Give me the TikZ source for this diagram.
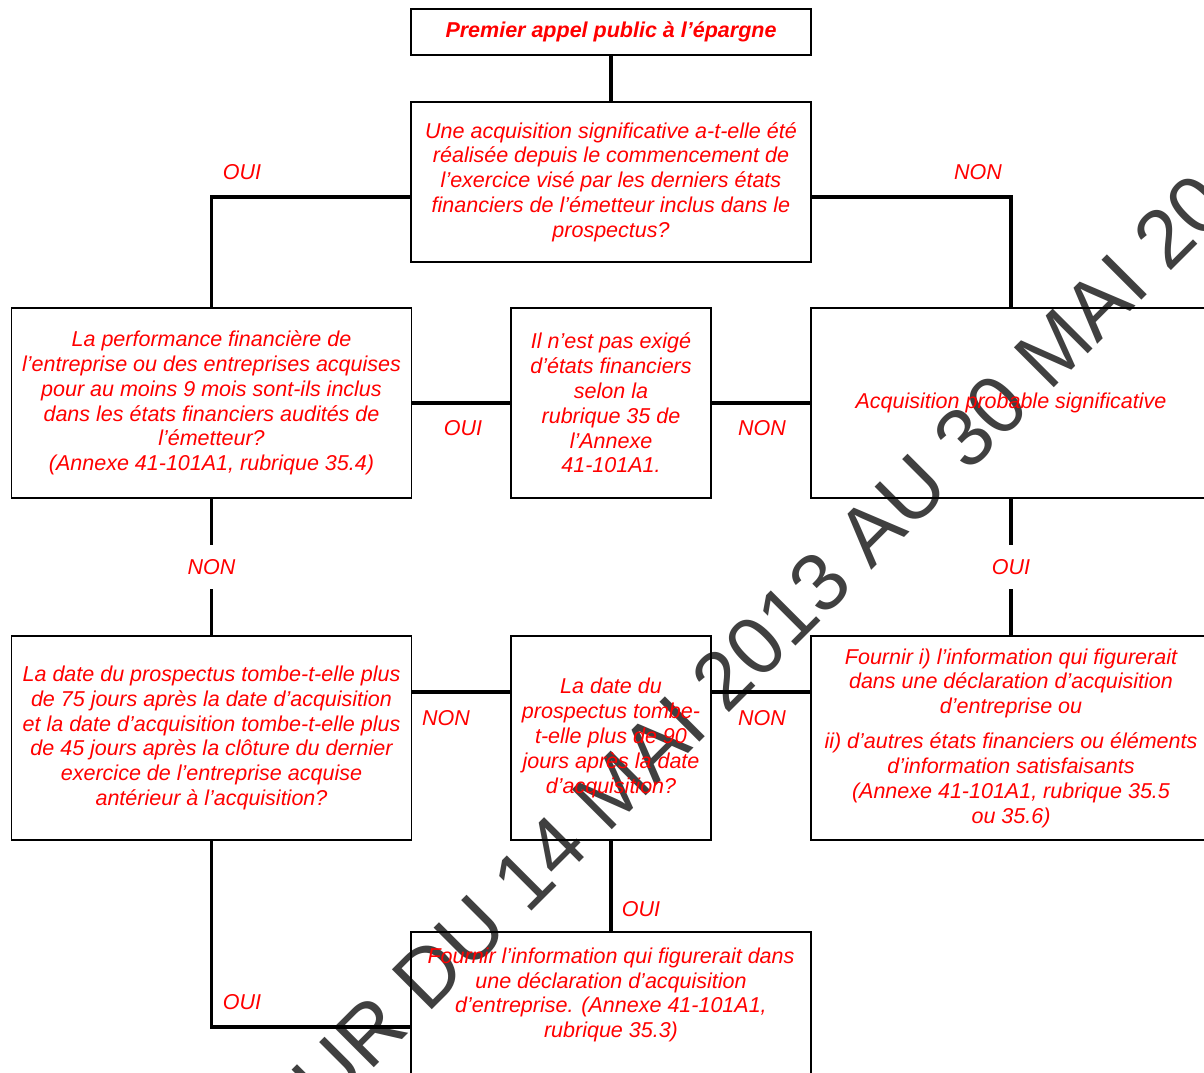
\documentclass[tikz,border=0pt]{standalone}
\usepackage{fontspec}
\setmainfont{Liberation Sans}
\usetikzlibrary{positioning}
\definecolor{txtred}{RGB}{255,0,0}
\definecolor{wmgray}{RGB}{64,64,64}
\newcommand{\boxfont}{\fontsize{10.75pt}{12.4pt}\selectfont\itshape}
\tikzset{
    box/.style={draw=black, line width=0.6pt, minimum width=200pt, inner sep=0pt, align=center, text=txtred, font=\boxfont},
    smallbox/.style={box, minimum width=100pt},
    link/.style={line width=1.7pt},
    lbl/.style={text=txtred, font=\boxfont, inner sep=0pt},
    gaplbl/.style={lbl, fill=white, inner ysep=7.4pt, inner xsep=2pt},
    stamp/.style={text=wmgray, inner sep=0pt, font=\fontsize{41pt}{49pt}\selectfont}
}
\begin{document}
\begin{tikzpicture}[x=0.5pt,y=-0.5pt]
    \fill[white] (0,0) rectangle (1204,1072);
    \useasboundingbox (0,0) rectangle (1204,1072);
    \node[stamp, rotate=45, anchor=base west] (wm) at (50,1392) {EN VIGUEUR DU 14 MAI 2013 AU 30 MAI 2015};

    \node[box, minimum height=23pt, font=\boxfont\bfseries] (start) at (611,32) {Premier appel public à l’épargne};
    \node[box, minimum height=80pt] (q1) at (611,182) {Une acquisition significative a-t-elle été\\réalisée depuis le commencement de\\l’exercice visé par les derniers états\\financiers de l’émetteur inclus dans le\\prospectus?};
    \node[box, minimum height=95pt] (perf) at (211.5,403) {La performance financière de\\l’entreprise ou des entreprises acquises\\pour au moins 9 mois sont-ils inclus\\dans les états financiers audités de\\l’émetteur?\\(Annexe 41-101A1, rubrique 35.4)};
    \node[smallbox, minimum height=95pt] (nonexig) at (611,403) {Il n’est pas exigé\\d’états financiers\\selon la\\rubrique 35 de\\l’Annexe\\41-101A1.};
    \node[box, minimum height=95pt] (prob) at (1011,403) {Acquisition probable significative};
    \node[box, minimum height=102pt] (date75) at (211.5,738) {La date du prospectus tombe-t-elle plus\\de 75 jours après la date d’acquisition\\et la date d’acquisition tombe-t-elle plus\\de 45 jours après la clôture du dernier\\exercice de l’entreprise acquise\\antérieur à l’acquisition?};
    \node[smallbox, minimum height=102pt] (date90) at (611,738) {La date du\\prospectus tombe-\\t-elle plus de 90\\jours après la date\\d’acquisition?};
    \node[box, minimum height=102pt] (info) at (1011,738) {Fournir i) l’information qui figurerait\\dans une déclaration d’acquisition\\d’entreprise ou\\[5.1pt]ii) d’autres états financiers ou éléments\\d’information satisfaisants\\(Annexe 41-101A1, rubrique 35.5\\ou 35.6)};
    \node[box, minimum height=95pt] (fourn) at (611,1027) {};
    \node[lbl, align=center] (fourntxt) at (611,995) {Fournir l’information qui figurerait dans\\une déclaration d’acquisition\\d’entreprise. (Annexe 41-101A1,\\rubrique 35.3)};

    \draw[link] (start) -- (q1);
    \draw[link] ([yshift=-7.5pt]q1.west) -| (perf.north);
    \draw[link] ([yshift=-7.5pt]q1.east) -| (prob.north);
    \draw[link] (perf) -- (nonexig);
    \draw[link] (nonexig) -- (prob);
    \draw[link] (perf) -- node[gaplbl] (lblnonb) {NON} (date75);
    \draw[link] (prob) -- node[gaplbl] (lblouic) {OUI} (info);
    \draw[link] ([yshift=23pt]date75.east) -- ([yshift=23pt]date90.west);
    \draw[link] ([yshift=23pt]date90.east) -- ([yshift=23pt]info.west);
    \draw[link] (date90) -- (fourn);
    \draw[link] (date75.south) |- (fourn.west);

    \foreach \n/\x/\y/\t in {a/242/172/OUI, b/978/172/NON, c/463/428/OUI, d/762/428/NON, e/446/718/NON, f/762/718/NON, g/641/909/OUI, h/242/1002/OUI}
        \node[lbl] (lbl\n) at (\x,\y) {\t};
\end{tikzpicture}
\end{document}
